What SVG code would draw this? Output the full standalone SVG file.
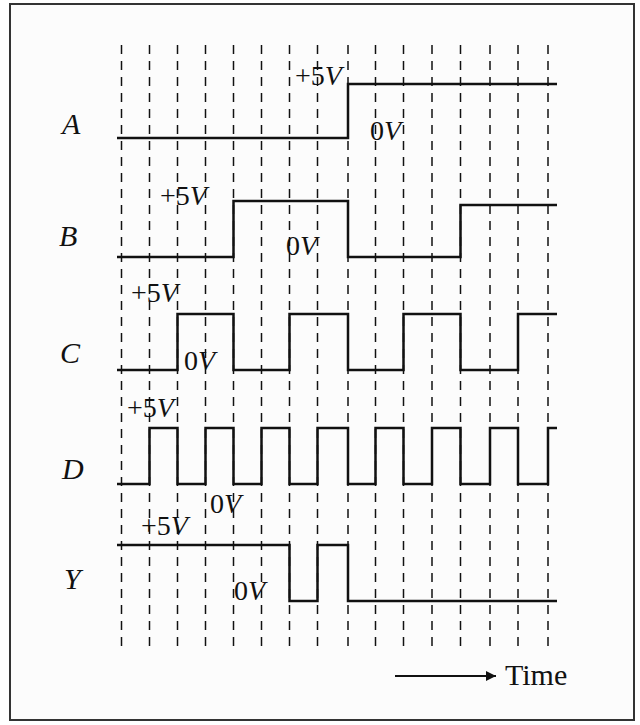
<svg xmlns="http://www.w3.org/2000/svg" width="640" height="725" viewBox="0 0 640 725">
<defs>
<style>
.grid line{stroke:#111;stroke-width:1.5;stroke-dasharray:9 7}
.wave{fill:none;stroke:#111;stroke-width:2.5;stroke-linejoin:miter}
.lbl{font-style:italic;font-size:30px;fill:#111}
.v{font-size:28px;fill:#111}
.i{font-style:italic}
</style>
<marker id="ah" markerWidth="10" markerHeight="10" refX="10" refY="5" orient="auto" markerUnits="userSpaceOnUse" viewBox="0 0 10 10">
<path d="M0,0 L10,5 L0,10 z" fill="#111"/>
</marker>
</defs>
<rect x="0" y="0" width="640" height="725" fill="#ffffff"/>
<rect x="10" y="4" width="624" height="716" fill="#fcfcfc" stroke="#333" stroke-width="2"/>
<g id="connectors">
<g class="grid">
<line x1="121.5" y1="45" x2="121.5" y2="650"/>
<line x1="149.5" y1="45" x2="149.5" y2="650"/>
<line x1="177.5" y1="45" x2="177.5" y2="650"/>
<line x1="205.5" y1="45" x2="205.5" y2="650"/>
<line x1="233.5" y1="45" x2="233.5" y2="650"/>
<line x1="261.5" y1="45" x2="261.5" y2="650"/>
<line x1="289.5" y1="45" x2="289.5" y2="650"/>
<line x1="317.5" y1="45" x2="317.5" y2="650"/>
<line x1="348" y1="45" x2="348" y2="650"/>
<line x1="375.5" y1="45" x2="375.5" y2="650"/>
<line x1="403.5" y1="45" x2="403.5" y2="650"/>
<line x1="432" y1="45" x2="432" y2="650"/>
<line x1="460.5" y1="45" x2="460.5" y2="650"/>
<line x1="490" y1="45" x2="490" y2="650"/>
<line x1="518" y1="45" x2="518" y2="650"/>
<line x1="548" y1="45" x2="548" y2="650"/>
</g>
<line x1="395" y1="676" x2="496" y2="676" stroke="#111" stroke-width="2" marker-end="url(#ah)"/>
</g>
<g font-family="'Liberation Serif', 'Times New Roman', Times, serif">
<g id="A">
<path class="wave" d="M117,138 H348 V84 H557"/>
<text class="lbl" x="62" y="134">A</text>
<text class="v" x="295" y="85">+5<tspan class="i">V</tspan></text>
<text class="v" x="370" y="140">0<tspan class="i">V</tspan></text>
</g>
<g id="B">
<path class="wave" d="M117,257 H233.5 V201 H348 V257 H460.5 V205 H557"/>
<text class="lbl" x="59" y="246">B</text>
<text class="v" x="160" y="205">+5<tspan class="i">V</tspan></text>
<text class="v" x="286" y="255">0<tspan class="i">V</tspan></text>
</g>
<g id="C">
<path class="wave" d="M117,370 H177.5 V314 H233.5 V370 H289.5 V314 H348 V370 H403.5 V314 H460.5 V370 H518 V314 H557"/>
<text class="lbl" x="60" y="363">C</text>
<text class="v" x="131" y="302">+5<tspan class="i">V</tspan></text>
<text class="v" x="184" y="370">0<tspan class="i">V</tspan></text>
</g>
<g id="D">
<path class="wave" d="M117,484 H149.5 V428 H177.5 V484 H205.5 V428 H233.5 V484 H261.5 V428 H289.5 V484 H317.5 V428 H348 V484 H375.5 V428 H403.5 V484 H432 V428 H460.5 V484 H490 V428 H518 V484 H548 V428 H557"/>
<text class="lbl" x="62" y="479">D</text>
<text class="v" x="127" y="417">+5<tspan class="i">V</tspan></text>
<text class="v" x="210" y="513">0<tspan class="i">V</tspan></text>
</g>
<g id="Y">
<path class="wave" d="M117,545 H289.5 V601 H317.5 V545 H348 V601 H557"/>
<text class="lbl" x="64" y="589">Y</text>
<text class="v" x="141" y="535">+5<tspan class="i">V</tspan></text>
<text class="v" x="234" y="600">0<tspan class="i">V</tspan></text>
</g>
<g id="time">
<text class="v" x="505" y="685" style="font-size:30px">Time</text>
</g>
</g>
</svg>
